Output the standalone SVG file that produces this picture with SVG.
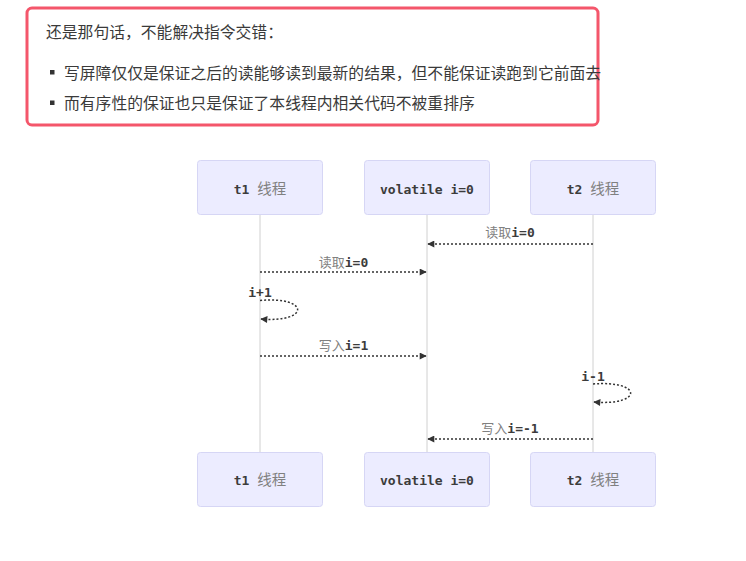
<svg xmlns="http://www.w3.org/2000/svg" width="746" height="561" viewBox="0 0 746 561">
  <style>
    .note { fill: #ffffff; stroke: #f4566b; stroke-width: 3; }
    .note-text { font-family: "Noto Sans CJK SC", "Noto Sans", sans-serif; font-size: 15.8px; fill: #3a3a3a; }
    .bullet { fill: #333333; }
    .actor { fill: #ececff; stroke: #d6d6f5; stroke-width: 1; }
    .actor-text { font-size: 13px; text-anchor: middle; }
    .mono { font-family: "DejaVu Sans Mono", "Liberation Mono", monospace; font-weight: bold; fill: #3c3c3c; }
    .cjk { font-family: "Noto Sans CJK SC", sans-serif; font-weight: normal; fill: #808080; }
    .big { font-size: 14.5px; }
    .lifeline { stroke: #d0d0d0; stroke-width: 1; }
    .msg { fill: none; stroke: #333333; stroke-width: 1.5; stroke-dasharray: 2 2; }
    .msg-text { font-size: 13px; text-anchor: middle; }
  </style>
  <defs>
    <marker id="arrowhead" viewBox="0 0 10 10" refX="9" refY="5" markerUnits="userSpaceOnUse" markerWidth="8" markerHeight="7" orient="auto">
      <path d="M0,0 L10,5 L0,10 z" fill="#333333"/>
    </marker>
  </defs>

  <rect width="746" height="561" fill="#ffffff"/>

  <!-- note box above the diagram -->
  <g id="note">
    <rect class="note" x="27" y="8" width="571" height="117" rx="5"/>
    <text class="note-text" x="46" y="38">还是那句话，不能解决指令交错：</text>
    <rect class="bullet" x="50" y="70" width="4.5" height="4.5"/>
    <text class="note-text" x="64" y="78.5">写屏障仅仅是保证之后的读能够读到最新的结果，但不能保证读跑到它前面去</text>
    <rect class="bullet" x="50" y="100.5" width="4.5" height="4.5"/>
    <text class="note-text" x="64" y="108.5">而有序性的保证也只是保证了本线程内相关代码不被重排序</text>
  </g>

  <!-- lifelines -->
  <g id="lifelines">
    <line class="lifeline" x1="260" y1="214" x2="260" y2="452"/>
    <line class="lifeline" x1="427" y1="214" x2="427" y2="452"/>
    <line class="lifeline" x1="593" y1="214" x2="593" y2="452"/>
  </g>

  <!-- participants (top) -->
  <g id="t1-top">
    <rect class="actor" x="197.5" y="160.5" width="125" height="54" rx="3"/>
    <text class="actor-text" x="260" y="193.5"><tspan class="mono">t1 </tspan><tspan class="cjk big">线程</tspan></text>
  </g>
  <g id="vol-top">
    <rect class="actor" x="364.5" y="160.5" width="125" height="54" rx="3"/>
    <text class="actor-text mono" x="427" y="193.5">volatile i=0</text>
  </g>
  <g id="t2-top">
    <rect class="actor" x="530.5" y="160.5" width="125" height="54" rx="3"/>
    <text class="actor-text" x="593" y="193.5"><tspan class="mono">t2 </tspan><tspan class="cjk big">线程</tspan></text>
  </g>

  <!-- participants (bottom) -->
  <g id="t1-bottom">
    <rect class="actor" x="197.5" y="452.5" width="125" height="54" rx="3"/>
    <text class="actor-text" x="260" y="484.5"><tspan class="mono">t1 </tspan><tspan class="cjk big">线程</tspan></text>
  </g>
  <g id="vol-bottom">
    <rect class="actor" x="364.5" y="452.5" width="125" height="54" rx="3"/>
    <text class="actor-text mono" x="427" y="484.5">volatile i=0</text>
  </g>
  <g id="t2-bottom">
    <rect class="actor" x="530.5" y="452.5" width="125" height="54" rx="3"/>
    <text class="actor-text" x="593" y="484.5"><tspan class="mono">t2 </tspan><tspan class="cjk big">线程</tspan></text>
  </g>

  <!-- messages -->
  <g id="messages">
    <line class="msg" x1="593" y1="244" x2="428" y2="244" marker-end="url(#arrowhead)"/>
    <text class="msg-text" x="510" y="236.5"><tspan class="cjk">读取</tspan><tspan class="mono">i=0</tspan></text>

    <line class="msg" x1="260" y1="272" x2="426" y2="272" marker-end="url(#arrowhead)"/>
    <text class="msg-text" x="343.5" y="266.5"><tspan class="cjk">读取</tspan><tspan class="mono">i=0</tspan></text>

    <path class="msg" d="M260,300.5 C310,296 310,323 261,319" marker-end="url(#arrowhead)"/>
    <text class="msg-text mono" x="260" y="296.5">i+1</text>

    <line class="msg" x1="260" y1="356" x2="426" y2="356" marker-end="url(#arrowhead)"/>
    <text class="msg-text" x="343.5" y="349.5"><tspan class="cjk">写入</tspan><tspan class="mono">i=1</tspan></text>

    <path class="msg" d="M593,384 C643,380 643,406 594,402" marker-end="url(#arrowhead)"/>
    <text class="msg-text mono" x="593" y="380.5">i-1</text>

    <line class="msg" x1="593" y1="439" x2="428" y2="439" marker-end="url(#arrowhead)"/>
    <text class="msg-text" x="510" y="433"><tspan class="cjk">写入</tspan><tspan class="mono">i=-1</tspan></text>
  </g>
</svg>
